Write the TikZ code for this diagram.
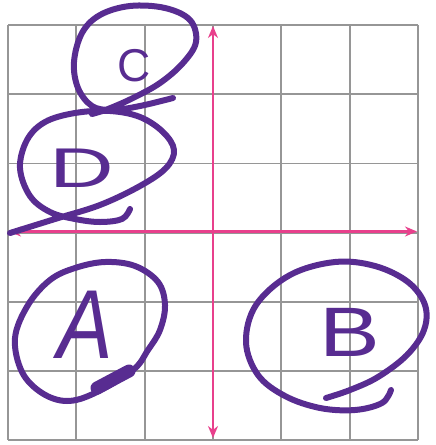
\documentclass[tikz,border=0pt]{standalone}
\usepackage{fontspec}
\setmainfont{Liberation Sans}
\usetikzlibrary{arrows.meta}
\definecolor{marker}{RGB}{88,44,145}
\definecolor{axispink}{RGB}{232,64,140}
\definecolor{gridgray}{RGB}{150,150,150}
\tikzset{
  gridline/.style={draw=gridgray, line width=1.8pt},
  axisline/.style={draw=axispink, line width=2.2pt, {Stealth[length=12pt,width=10pt]}-{Stealth[length=12pt,width=10pt]}},
  stroke/.style={draw=marker, line width=6pt, line cap=round, line join=round},
  letter/.style={text=marker, inner sep=0pt}
}
\begin{document}
\begin{tikzpicture}[x=1pt,y=-1pt]
\useasboundingbox[fill=white] (0,0) rectangle (436,445);
% grid
\foreach \i in {0,...,6}{
  \draw[gridline] ({8+68.33*\i},25) -- ({8+68.33*\i},440.2);
  \draw[gridline] (8,{25+69.2*\i}) -- (418,{25+69.2*\i});
}
% axes
\coordinate (xl) at (9,231.5);
\coordinate (xr) at (417,231.5);
\coordinate (yt) at (213,26);
\coordinate (yb) at (213,438);
\draw[axisline] (xl) -- (xr);
\draw[axisline] (yt) -- (yb);
% C loop
\draw[stroke] plot[smooth, tension=0.6] coordinates {(173,98) (140,106) (112,110) (92,106) (78,88) (74,62) (82,33) (100,15) (130,6) (165,8) (190,20) (196,42) (183,63) (160,83) (133,98) (108,109) (92,114)};
% D loop
\draw[stroke] plot[smooth, tension=0.6] coordinates {(130,209) (122,219) (100,222) (75,219) (50,212) (30,196) (20,168) (27,140) (45,122) (75,113) (110,111) (140,117) (163,132) (174,150) (166,168) (140,186) (100,205) (55,219) (10,233)};
% A loop
\draw[stroke] plot[smooth cycle, tension=0.6] coordinates {(133,370) (148,350) (160,330) (165,305) (158,282) (135,266) (105,262) (75,268) (50,280) (28,305) (15,338) (22,372) (42,393) (67,401) (95,393)};
\draw[stroke, line width=13pt] (97,388) -- (129,371);
% B loop
\draw[stroke] plot[smooth, tension=0.6] coordinates {(391,390) (382,403) (355,410) (320,408) (285,396) (258,375) (246,342) (256,305) (290,275) (335,262) (375,266) (408,282) (425,305) (424,330) (407,355) (378,377) (350,390) (326,398)};
% letters
\node[letter, font=\itshape\fontsize{98}{98}\selectfont, xscale=0.85] (A) at (85,325) {A};
\node[letter, font=\fontsize{70}{70}\selectfont, xscale=1.3] (B) at (350,332) {B};
\node[letter, font=\fontsize{46}{46}\selectfont] (C) at (134,66) {C};
\node[letter, font=\fontsize{56}{56}\selectfont, xscale=1.6] (D) at (82,168) {D};
\end{tikzpicture}
\end{document}
